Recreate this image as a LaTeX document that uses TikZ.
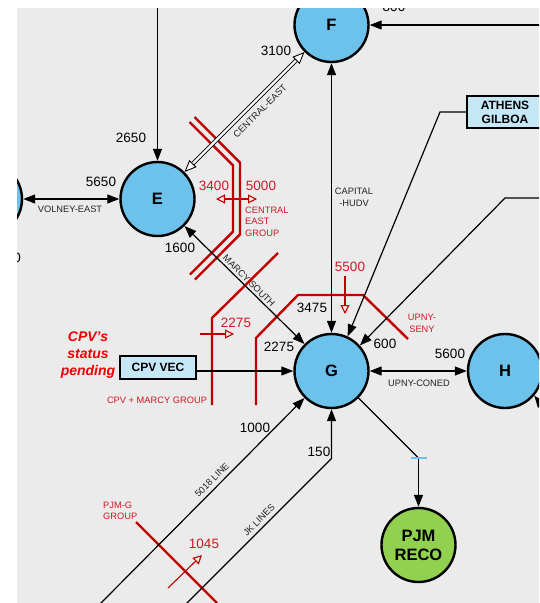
\documentclass[tikz,border=0pt]{standalone}
\usepackage{fontspec}
\setmainfont{Liberation Sans}
\usetikzlibrary{arrows.meta,calc}
\definecolor{busBlue}{RGB}{108,194,234}
\definecolor{recoGreen}{RGB}{146,208,80}
\definecolor{boxBlue}{RGB}{198,231,246}
\definecolor{panelGray}{RGB}{235,235,235}
\definecolor{flowRed}{RGB}{192,0,0}
\definecolor{flowText}{RGB}{208,24,36}
\definecolor{noteRed}{RGB}{240,0,0}
\definecolor{tagGray}{RGB}{35,35,35}

\tikzset{
  flowtip/.tip={Triangle[open,length=9pt,width=9pt]},
  bus/.style={circle, draw=black, line width=2.4pt, fill=busBlue, minimum size=74pt,
    inner sep=0pt, align=center, font=\fontsize{16.5}{19}\selectfont\bfseries},
  reco/.style={bus, fill=recoGreen},
  unit/.style={draw=black, line width=1.6pt, fill=boxBlue, minimum width=76pt,
    inner sep=0pt, align=center, font=\fontsize{12}{14}\selectfont\bfseries},
  tie/.style={draw=black, line width=1.2pt},
  dblshaft/.style={draw=black, line width=0.9pt, double=white, double distance=2.4pt},
  openhead/.style={line width=0.9pt, -{Triangle[open,fill=white,length=12pt,width=10pt]}},
  cut/.style={draw=flowRed, line width=2.4pt},
  flowdir/.style={draw=flowRed, line width=1.1pt, -flowtip},
  num/.style={inner sep=0pt, font=\fontsize{13.5}{15}\selectfont},
  tag/.style={inner sep=0pt, text=tagGray, font=\fontsize{9.3}{11.5}\selectfont},
  rnum/.style={num, text=flowText},
  rtag/.style={tag, text=flowText, align=left},
  note/.style={inner sep=0pt, text=noteRed, align=center,
    font=\fontsize{14}{17}\selectfont\bfseries\itshape}
}

\begin{document}
\begin{tikzpicture}[x=1pt, y=-1pt, >={Triangle[length=12pt,width=9pt]}]
  \useasboundingbox (0,0) rectangle (539,603);
  \fill[white] (0,0) rectangle (539,603);
  \begin{scope}
    \clip (17,8) rectangle (539,603);
    \fill[panelGray] (17,8) rectangle (539,603);

    % buses
    \node[bus] (W) at (-15,199) {};
    \node[bus] (E) at (157.5,199) {E};
    \node[bus] (F) at (331.5,25) {F};
    \node[bus] (G) at (331.5,371) {G};
    \node[bus] (H) at (505,371) {H};
    \node[reco] (PJM) at (418.5,545) {PJM\\RECO};
    \node[unit, minimum height=23pt] (CPV) at (158,367.5) {CPV VEC};
    \node[unit, minimum height=32pt] (AG) at (505,112) {ATHENS\\GILBOA};

    % free ends and bends
    \coordinate (etop) at (157.5,0);
    \coordinate (fin) at (560,25);
    \coordinate (rin) at (560,198);
    \coordinate (rbend) at (505,198);
    \coordinate (agbend) at (440,112);
    \coordinate (hout) at (565,435);
    \coordinate (line5018) at (100,604);
    \coordinate (jkfoot) at (186,604);
    \coordinate (jkbend) at (331.5,458.5);
    \coordinate (pjmbend) at (418.5,458);
    \coordinate (ceF) at (F.225);
    \coordinate (ceE) at (E.45);

    % interfaces
    \draw[cut] (194.5,117) -- (240,162.6) -- (240,234.4) -- (195,279.5);
    \draw[cut] (189.5,122) -- (233,165.4) -- (233,231.6) -- (190,274.5);
    \draw[cut] (278,253) -- (212,318) -- (212,405);
    \draw[cut] (256,405) -- (256,338) -- (298,295) -- (363,295) -- (408,339);
    \draw[cut] (136,522) -- (217,603);

    % lines
    \draw[tie,->] (etop) -- (E.north);
    \draw[tie,<->] (W.east) -- (E.west);
    \draw[tie,->] (fin) -- (F.east);
    \draw[tie,<->] (G.north) -- (F.south);
    \draw[tie,->] (AG.west) -- (agbend) -- (G.65);
    \draw[tie,->] (rin) -- (rbend) -- (G.42);
    \draw[tie,<->] (G.east) -- (H.west);
    \draw[tie,->] (hout) -- (H.-40);
    \draw[tie,<->] (E.-45) -- (G.135);
    \draw[tie,->] (CPV.east |- G.west) -- (G.west);
    \draw[tie,->] (line5018) -- (G.-135);
    \draw[tie,->] (jkfoot) -- (jkbend) -- (G.south);
    \draw[tie] (G.-45) -- (pjmbend);
    \draw[tie,->] (pjmbend) -- (PJM.north);
    \draw[busBlue, line width=2pt] ($(pjmbend)+(-8,0)$) -- ($(pjmbend)+(8,0)$);

    % central-east double line
    \draw[dblshaft] ($(ceF)!11pt!(ceE)$) -- ($(ceE)!11pt!(ceF)$);
    \draw[openhead] ($(ceF)!12pt!(ceE)$) -- (ceF);
    \draw[openhead] ($(ceE)!12pt!(ceF)$) -- (ceE);

    % interface flow marks
    \draw[flowdir, flowtip-flowtip] (216,199) -- (257,199);
    \draw[flowdir] (200,334) -- (234,334);
    \draw[flowdir] (345,276) -- (345,314);
    \draw[flowdir] (168,588) -- (202,555);

    % limits
    \node[num] (n2650) at (131,138) {2650};
    \node[num] (n3100) at (276,51) {3100};
    \node[num] (n800) at (394,7) {800};
    \node[num] (n5650) at (101,182) {5650};
    \node[num] (n1600) at (180,248) {1600};
    \node[num] (n3475) at (312,308) {3475};
    \node[num] (n600) at (385,344) {600};
    \node[num] (n2275) at (279,347) {2275};
    \node[num] (n5600) at (450,354) {5600};
    \node[num] (n1000) at (255,428) {1000};
    \node[num] (n150) at (319,452) {150};
    \node[num, anchor=east] (nW) at (21,257.5) {0};

    % line names
    \node[tag] (tVolney) at (70,209) {VOLNEY-EAST};
    \node[tag, rotate=-45] (tMarcy) at (249,281) {MARCY SOUTH};
    \node[tag, rotate=45] (tCentral) at (260,111) {CENTRAL-EAST};
    \node[tag, align=center] (tCapital) at (354,197.5) {CAPITAL\\-HUDV};
    \node[tag] (tConed) at (419,383) {UPNY-CONED};
    \node[tag, rotate=45] (t5018) at (212,480) {5018 LINE};
    \node[tag, rotate=45] (tJK) at (259,520) {JK LINES};

    % interface names
    \node[rnum] (r3400) at (214,186) {3400};
    \node[rnum] (r5000) at (261,186) {5000};
    \node[rtag, anchor=west] (rCE) at (245,221.5) {CENTRAL\\EAST\\GROUP};
    \node[rnum] (r2275) at (236,323) {2275};
    \node[rtag] (rCPVM) at (157,400) {CPV + MARCY GROUP};
    \node[rnum] (r5500) at (350,267) {5500};
    \node[rtag, align=center] (rUS) at (422,323.5) {UPNY-\\SENY};
    \node[rnum] (r1045) at (204,544) {1045};
    \node[rtag, anchor=west] (rPJMG) at (103,511) {PJM-G\\GROUP};
    \node[note] (cpvNote) at (88,355) {CPV’s\\status\\pending};
  \end{scope}
\end{tikzpicture}
\end{document}
